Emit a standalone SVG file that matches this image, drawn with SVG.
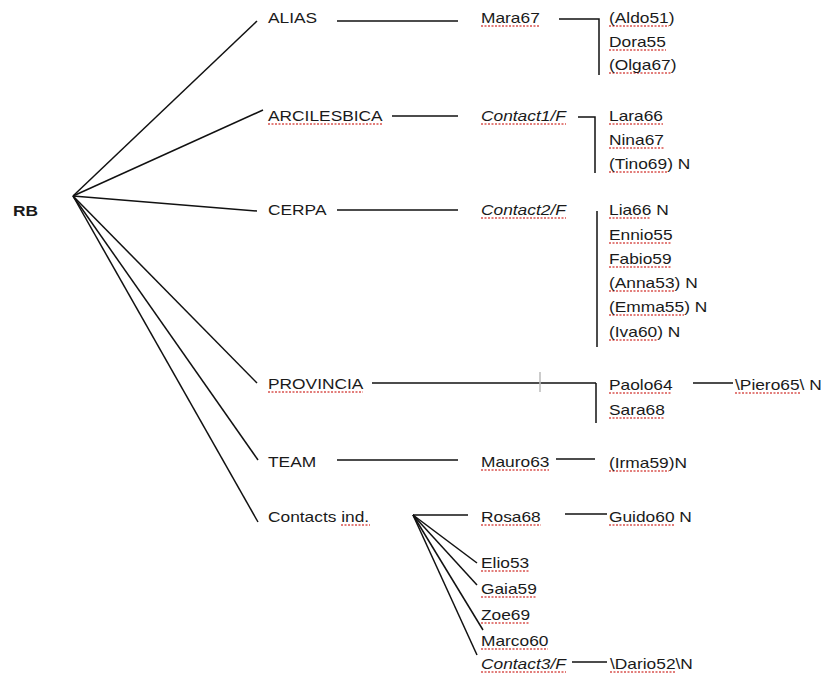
<svg xmlns="http://www.w3.org/2000/svg" width="829" height="677" viewBox="0 0 829 677">
<style>
text{font-family:"Liberation Sans",Arial,sans-serif;font-size:14px;fill:#1a1a1a;transform-box:fill-box;transform-origin:0 0;transform:scaleX(1.24)}
.b{font-weight:bold}
.i{font-style:italic}
.c line,.c path{stroke:#111;stroke-width:1.5;fill:none}
.c .tick{stroke:#bbb;stroke-width:1.5}
.sp{stroke:#d9534f;stroke-width:1.5;stroke-dasharray:2 1.5}
</style>
<rect width="829" height="677" fill="#fff"/>
<g id="connectors" class="c">
<line x1="73" y1="196" x2="257" y2="21"/>
<line x1="73" y1="196" x2="263" y2="110"/>
<line x1="73" y1="196" x2="257" y2="211"/>
<line x1="73" y1="196" x2="257" y2="383"/>
<line x1="73" y1="196" x2="258" y2="460"/>
<line x1="73" y1="196" x2="258" y2="522"/>
<line x1="337" y1="21" x2="458" y2="21"/>
<line x1="392" y1="116" x2="458" y2="116"/>
<line x1="337" y1="210" x2="458" y2="210"/>
<line x1="372" y1="383" x2="596" y2="383"/>
<line x1="337" y1="460" x2="458" y2="460"/>
<path d="M559 19H599V75"/>
<path d="M578 117H595V173"/>
<line x1="597" y1="211" x2="597" y2="347"/>
<line x1="596" y1="383" x2="596" y2="423"/>
<line class="tick" x1="540" y1="372" x2="540" y2="392"/>
<line x1="693" y1="383" x2="733" y2="383"/>
<line x1="556" y1="459" x2="595" y2="459"/>
<line x1="413" y1="515" x2="468" y2="515"/>
<line x1="413" y1="515" x2="477" y2="563"/>
<line x1="413" y1="515" x2="477" y2="585"/>
<line x1="413" y1="515" x2="483" y2="630"/>
<line x1="413" y1="515" x2="477" y2="655"/>
<line x1="565" y1="514" x2="607" y2="514"/>
<line x1="572" y1="662" x2="607" y2="662"/>
</g>
<g id="spellmarks">
<line class="sp" x1="268" y1="124" x2="383" y2="124"/>
<line class="sp" x1="268" y1="392" x2="363" y2="392"/>
<line class="sp" x1="341" y1="525" x2="370" y2="525"/>
<line class="sp" x1="481" y1="26" x2="540" y2="26"/>
<line class="sp" x1="481" y1="124" x2="566" y2="124"/>
<line class="sp" x1="481" y1="218" x2="566" y2="218"/>
<line class="sp" x1="481" y1="470" x2="549" y2="470"/>
<line class="sp" x1="481" y1="525" x2="541" y2="525"/>
<line class="sp" x1="481" y1="571" x2="529" y2="571"/>
<line class="sp" x1="481" y1="597" x2="537" y2="597"/>
<line class="sp" x1="481" y1="623" x2="530" y2="623"/>
<line class="sp" x1="481" y1="649" x2="548" y2="649"/>
<line class="sp" x1="481" y1="672" x2="566" y2="672"/>
<line class="sp" x1="609" y1="26" x2="669" y2="26"/>
<line class="sp" x1="609" y1="50" x2="666" y2="50"/>
<line class="sp" x1="609" y1="73" x2="671" y2="73"/>
<line class="sp" x1="609" y1="124" x2="663" y2="124"/>
<line class="sp" x1="609" y1="148" x2="664" y2="148"/>
<line class="sp" x1="609" y1="172" x2="668" y2="172"/>
<line class="sp" x1="609" y1="218" x2="651" y2="218"/>
<line class="sp" x1="609" y1="243" x2="672" y2="243"/>
<line class="sp" x1="609" y1="267" x2="671" y2="267"/>
<line class="sp" x1="609" y1="291" x2="675" y2="291"/>
<line class="sp" x1="609" y1="315" x2="684" y2="315"/>
<line class="sp" x1="609" y1="340" x2="657" y2="340"/>
<line class="sp" x1="609" y1="393" x2="672" y2="393"/>
<line class="sp" x1="609" y1="418" x2="665" y2="418"/>
<line class="sp" x1="609" y1="471" x2="669" y2="471"/>
<line class="sp" x1="609" y1="525" x2="674" y2="525"/>
<line class="sp" x1="735" y1="393" x2="800" y2="393"/>
<line class="sp" x1="610" y1="672" x2="676" y2="672"/>
</g>
<g id="n-rb"><text class="b" x="13" y="216">RB</text></g>
<g id="n-alias"><text x="268" y="23">ALIAS</text></g>
<g id="n-arcilesbica"><text x="268" y="121">ARCILESBICA</text></g>
<g id="n-cerpa"><text x="268" y="215">CERPA</text></g>
<g id="n-provincia"><text x="268" y="389">PROVINCIA</text></g>
<g id="n-team"><text x="268" y="467">TEAM</text></g>
<g id="n-contacts"><text x="268" y="522">Contacts ind.</text></g>
<g id="n-mara67"><text x="481" y="23">Mara67</text></g>
<g id="n-contact1"><text class="i" x="481" y="121">Contact1/F</text></g>
<g id="n-contact2"><text class="i" x="481" y="215">Contact2/F</text></g>
<g id="n-mauro63"><text x="481" y="467">Mauro63</text></g>
<g id="n-rosa68"><text x="481" y="522">Rosa68</text></g>
<g id="n-elio53"><text x="481" y="568">Elio53</text></g>
<g id="n-gaia59"><text x="481" y="594">Gaia59</text></g>
<g id="n-zoe69"><text x="481" y="620">Zoe69</text></g>
<g id="n-marco60"><text x="481" y="646">Marco60</text></g>
<g id="n-contact3"><text class="i" x="481" y="669">Contact3/F</text></g>
<g id="n-alias-list">
<text x="609" y="23">(Aldo51)</text>
<text x="609" y="47">Dora55</text>
<text x="609" y="70">(Olga67)</text>
</g>
<g id="n-arc-list">
<text x="609" y="121">Lara66</text>
<text x="609" y="145">Nina67</text>
<text x="609" y="169">(Tino69) N</text>
</g>
<g id="n-cerpa-list">
<text x="609" y="215">Lia66 N</text>
<text x="609" y="240">Ennio55</text>
<text x="609" y="264">Fabio59</text>
<text x="609" y="288">(Anna53) N</text>
<text x="609" y="312">(Emma55) N</text>
<text x="609" y="337">(Iva60) N</text>
</g>
<g id="n-prov-list">
<text x="609" y="390">Paolo64</text>
<text x="609" y="415">Sara68</text>
</g>
<g id="n-piero65"><text x="735" y="390">\Piero65\ N</text></g>
<g id="n-irma59"><text x="609" y="468">(Irma59)N</text></g>
<g id="n-guido60"><text x="609" y="522">Guido60 N</text></g>
<g id="n-dario52"><text x="610" y="669">\Dario52\N</text></g>
</svg>
